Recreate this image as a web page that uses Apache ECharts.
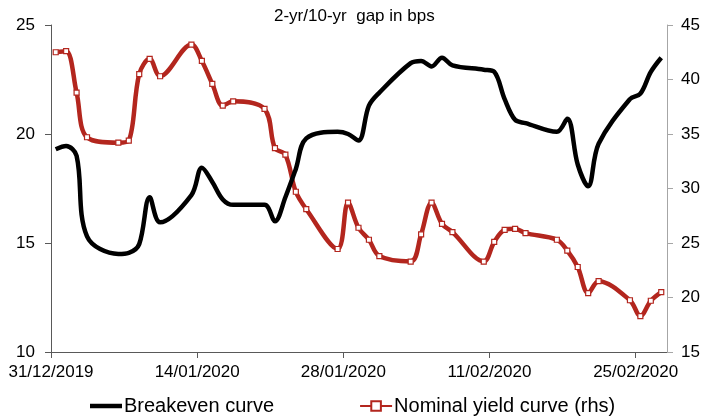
<!DOCTYPE html>
<html>
<head>
<meta charset="utf-8">
<script src="https://cdn.jsdelivr.net/npm/echarts@6/dist/echarts.min.js"></script>
<style>
  html, body { margin: 0; padding: 0; background: #fff; }
  #chart { width: 714px; height: 416px; }
</style>
</head>
<body>
<div id="chart"></div>
<script>
// Trading dates (business days)
const dates = [
  '2019-12-31', '2020-01-01', '2020-01-02', '2020-01-03',
  '2020-01-06', '2020-01-07', '2020-01-08', '2020-01-09', '2020-01-10',
  '2020-01-13', '2020-01-14', '2020-01-15', '2020-01-16', '2020-01-17',
  '2020-01-20', '2020-01-21', '2020-01-22', '2020-01-23', '2020-01-24',
  '2020-01-27', '2020-01-28', '2020-01-29', '2020-01-30', '2020-01-31',
  '2020-02-03', '2020-02-04', '2020-02-05', '2020-02-06', '2020-02-07',
  '2020-02-10', '2020-02-11', '2020-02-12', '2020-02-13', '2020-02-14',
  '2020-02-17', '2020-02-18', '2020-02-19', '2020-02-20', '2020-02-21',
  '2020-02-24', '2020-02-25', '2020-02-26', '2020-02-27'
];

// Breakeven 2-yr/10-yr gap, bps (left axis)
const breakeven = [
  19.3, 19.45, 19.0, 15.3,
  14.5, 14.55, 14.95, 17.1, 15.95,
  17.2, 18.45, 17.8, 17.0, 16.75,
  16.75, 16.0, 17.1, 18.4, 19.8,
  20.1, 20.0, 19.7, 21.3, 21.9,
  23.25, 23.35, 23.1, 23.5, 23.15,
  22.95, 22.85, 21.6, 20.65, 20.5,
  20.1, 20.7, 18.6, 17.6, 19.55,
  21.6, 21.85, 22.85, 23.5
];

// Nominal 2-yr/10-yr gap, bps (right axis)
const nominal = [
  42.5, 42.6, 38.8, 34.7,
  34.2, 34.4, 40.5, 41.9, 40.3,
  43.2, 41.7, 39.6, 37.6, 38.0,
  37.3, 33.7, 33.1, 29.7, 28.1,
  24.45, 28.7, 26.4, 25.3, 23.8,
  23.3, 25.8, 28.7, 26.75, 26.0,
  23.3, 25.1, 26.2, 26.3, 25.9,
  25.3, 24.3, 22.8, 20.4, 21.5,
  19.75, 18.3, 19.7, 20.5
];

// Date-axis tick labels, every 14 days from the start date
const xTickLabels = ['31/12/2019', '14/01/2020', '28/01/2020', '11/02/2020', '25/02/2020'];

const seriesNames = ['Breakeven curve', 'Nominal yield curve (rhs)'];
const subtitle = '2-yr/10-yr  gap in bps';

const DAY = 86400000;
const start = Date.parse(dates[0]);
// Excel-style date axis: each day occupies one unit, points sit mid-day
const dayPos = d => (Date.parse(d) - start) / DAY + 0.45;

const beData = dates.map((d, i) => [dayPos(d), breakeven[i]]);
const nomData = dates.map((d, i) => [dayPos(d), nominal[i]]);

const font = 'Arial, "Liberation Sans", sans-serif';
const red = '#b3261e';

const chart = echarts.init(document.getElementById('chart'), null, { renderer: 'canvas' });
chart.setOption({
  animation: false,
  backgroundColor: '#ffffff',
  title: {
    text: subtitle,
    left: 269,
    top: 3,
    textStyle: { fontFamily: font, fontSize: 17, fontWeight: 'normal', color: '#000' }
  },
  legend: {
    data: [
      { name: seriesNames[0], icon: 'path://M0,0H32V4.5H0Z', itemStyle: { color: '#000' } },
      { name: seriesNames[1] }
    ],
    left: 85,
    top: 391,
    itemGap: 85,
    itemWidth: 32,
    itemHeight: 12,
    textStyle: { fontFamily: font, fontSize: 20, color: '#000', padding: [0, 0, 0, -3] }
  },
  grid: { left: 51, right: 47, top: 25, bottom: 64, containLabel: false },
  xAxis: {
    type: 'value',
    min: 0,
    max: 59,
    interval: 14,
    axisLine: { show: true, lineStyle: { color: '#595959', width: 1 } },
    axisTick: { show: true, length: 6, lineStyle: { color: '#595959' } },
    splitLine: { show: false },
    axisLabel: {
      fontFamily: font, fontSize: 17, color: '#000', margin: 12,
      showMaxLabel: false,
      formatter: v => xTickLabels[Math.round(v / 14)] || ''
    }
  },
  yAxis: [
    {
      type: 'value',
      min: 10, max: 25, interval: 5,
      axisLine: { show: true, lineStyle: { color: '#595959', width: 1 } },
      axisTick: { show: true, length: 6, lineStyle: { color: '#595959' } },
      splitLine: { show: false },
      axisLabel: { fontFamily: font, fontSize: 17, color: '#000', margin: 16 }
    },
    {
      type: 'value',
      min: 15, max: 45, interval: 5,
      position: 'right',
      axisLine: { show: true, lineStyle: { color: '#a6a6a6', width: 1 } },
      axisTick: { show: true, length: 6, lineStyle: { color: '#a6a6a6' } },
      splitLine: { show: false },
      axisLabel: { fontFamily: font, fontSize: 17, color: '#000', margin: 14 }
    }
  ],
  series: [
    {
      name: seriesNames[0],
      type: 'line',
      yAxisIndex: 0,
      data: beData,
      smooth: 0.35,
      showSymbol: false,
      symbol: 'none',
      lineStyle: { color: '#000', width: 4.5 },
      itemStyle: { color: '#000' },
      z: 3
    },
    {
      name: seriesNames[1],
      type: 'line',
      yAxisIndex: 1,
      data: nomData,
      smooth: 0.35,
      symbol: 'rect',
      symbolSize: 5,
      showSymbol: true,
      lineStyle: { color: red, width: 4.5 },
      itemStyle: { color: '#fff', borderColor: red, borderWidth: 1.2 },
      z: 2
    }
  ]
});
</script>
</body>
</html>
